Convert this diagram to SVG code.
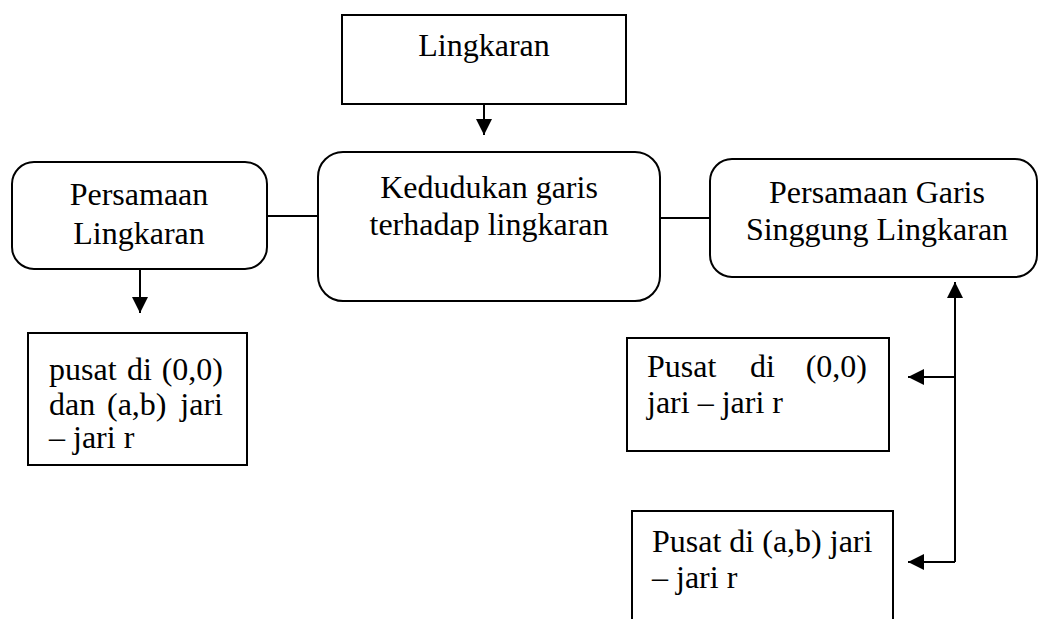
<svg xmlns="http://www.w3.org/2000/svg" width="1039" height="619" viewBox="0 0 1039 619">
<style>
.box{fill:#fff;stroke:#000;stroke-width:2}
.ln{fill:none;stroke:#000;stroke-width:2}
text{font-family:"Liberation Serif","Times New Roman",serif;font-size:32px;fill:#000}
.c{text-anchor:middle}
.e{text-anchor:end}
</style>
<defs>
<marker id="ah" viewBox="0 0 10 10" refX="10" refY="5" markerWidth="16" markerHeight="16" markerUnits="userSpaceOnUse" orient="auto">
<path d="M0,0 L10,5 L0,10 z" fill="#000"/>
</marker>
</defs>
<rect width="1039" height="619" fill="#fff"/>
<g id="connectors">
<line class="ln" x1="484" y1="104" x2="484" y2="135" marker-end="url(#ah)"/>
<line class="ln" x1="267" y1="216" x2="318" y2="216"/>
<line class="ln" x1="660" y1="218" x2="710" y2="218"/>
<line class="ln" x1="140" y1="270" x2="140" y2="313" marker-end="url(#ah)"/>
<line class="ln" x1="955" y1="562" x2="955" y2="282" marker-end="url(#ah)"/>
<line class="ln" x1="955" y1="377" x2="908" y2="377" marker-end="url(#ah)"/>
<line class="ln" x1="955" y1="562" x2="908" y2="562" marker-end="url(#ah)"/>
</g>
<g id="lingkaran">
<rect class="box" x="342" y="15" width="284" height="89"/>
<text class="c" x="484" y="56">Lingkaran</text>
</g>
<g id="kedudukan">
<rect class="box" x="318" y="152" width="342" height="149" rx="25"/>
<text class="c" x="489" y="198">Kedudukan garis</text>
<text class="c" x="489" y="235">terhadap lingkaran</text>
</g>
<g id="persamaan-lingkaran">
<rect class="box" x="12" y="162" width="255" height="107" rx="22"/>
<text class="c" x="139" y="205">Persamaan</text>
<text class="c" x="139" y="244">Lingkaran</text>
</g>
<g id="persamaan-garis-singgung">
<rect class="box" x="710" y="159" width="327" height="118" rx="22"/>
<text class="c" x="877" y="203">Persamaan Garis</text>
<text class="c" x="877" y="240">Singgung Lingkaran</text>
</g>
<g id="pusat-left">
<rect class="box" x="28" y="333" width="219" height="132"/>
<text x="49" y="380">pusat</text>
<text x="127" y="380">di</text>
<text class="e" x="223" y="380">(0,0)</text>
<text x="49" y="415">dan</text>
<text x="107" y="415">(a,b)</text>
<text class="e" x="223" y="415">jari</text>
<text x="49" y="448">– jari r</text>
</g>
<g id="pusat-00">
<rect class="box" x="627" y="338" width="262" height="113"/>
<text x="647" y="377">Pusat</text>
<text x="750" y="377">di</text>
<text class="e" x="867" y="377">(0,0)</text>
<text x="647" y="413">jari – jari r</text>
</g>
<g id="pusat-ab">
<rect class="box" x="632" y="511" width="261" height="130"/>
<text x="652" y="552">Pusat di (a,b) jari</text>
<text x="652" y="588">– jari r</text>
</g>
</svg>
